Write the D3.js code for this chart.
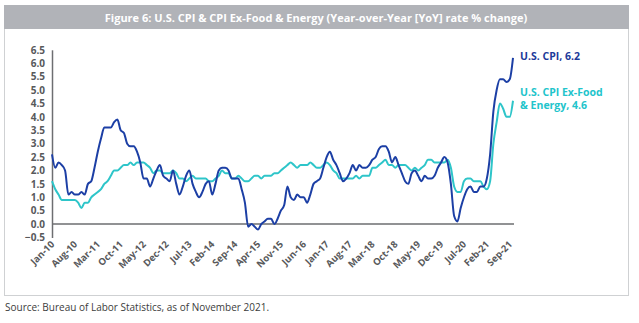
<!DOCTYPE html>
<html>
<head>
<meta charset="utf-8">
<script src="https://cdn.jsdelivr.net/npm/d3@7"></script>
<style>
	body { margin: 0; background: #fff; }
	svg { display: block; font-family: "Open Sans", "Noto Sans", sans-serif; }
</style>
</head>
<body>
<svg id="chart" width="639" height="323"></svg>
<script>
(function(d3) {
	'use strict';

	/** data: monthly YoY % change, Jan-10 .. Oct-21 */
	var cpi = [
		2.6, 2.1, 2.3, 2.2, 2.0, 1.1, 1.2, 1.1, 1.1, 1.2, 1.1, 1.5,
		1.6, 2.1, 2.7, 3.2, 3.6, 3.6, 3.6, 3.8, 3.9, 3.5, 3.4, 3.0,
		2.9, 2.9, 2.7, 2.3, 1.7, 1.7, 1.4, 1.7, 2.0, 2.2, 1.8, 1.7,
		1.6, 2.0, 1.5, 1.1, 1.4, 1.8, 2.0, 1.5, 1.2, 1.0, 1.2, 1.5,
		1.6, 1.1, 1.5, 2.0, 2.1, 2.1, 2.0, 1.7, 1.7, 1.7, 1.3, 0.8,
		-0.1, 0.0, -0.1, -0.2, 0.0, 0.1, 0.2, 0.2, 0.0, 0.2, 0.5, 0.7,
		1.4, 1.0, 0.9, 1.1, 1.0, 1.0, 0.8, 1.1, 1.5, 1.6, 1.7, 2.1,
		2.5, 2.7, 2.4, 2.2, 1.9, 1.6, 1.7, 1.9, 2.2, 2.0, 2.2, 2.1,
		2.1, 2.2, 2.4, 2.5, 2.8, 2.9, 2.9, 2.7, 2.3, 2.5, 2.2, 1.9,
		1.6, 1.5, 1.9, 2.0, 1.8, 1.6, 1.8, 1.7, 1.7, 1.8, 2.1, 2.3,
		2.5, 2.3, 1.5, 0.3, 0.1, 0.6, 1.0, 1.3, 1.4, 1.2, 1.2, 1.4,
		1.4, 1.7, 2.6, 4.2, 5.0, 5.4, 5.4, 5.3, 5.4, 6.2
	];
	var core = [
		1.6, 1.3, 1.1, 0.9, 0.9, 0.9, 0.9, 0.9, 0.8, 0.6, 0.8, 0.8,
		1.0, 1.1, 1.2, 1.3, 1.5, 1.6, 1.8, 2.0, 2.0, 2.1, 2.2, 2.2,
		2.3, 2.2, 2.3, 2.3, 2.3, 2.2, 2.1, 1.9, 2.0, 2.0, 1.9, 1.9,
		1.9, 2.0, 1.9, 1.7, 1.7, 1.6, 1.7, 1.8, 1.7, 1.7, 1.7, 1.7,
		1.6, 1.6, 1.7, 1.8, 2.0, 1.9, 1.9, 1.7, 1.7, 1.8, 1.7, 1.6,
		1.6, 1.7, 1.8, 1.8, 1.7, 1.8, 1.8, 1.8, 1.9, 1.9, 2.0, 2.1,
		2.2, 2.3, 2.2, 2.1, 2.2, 2.2, 2.2, 2.3, 2.2, 2.1, 2.1, 2.2,
		2.3, 2.2, 2.0, 1.9, 1.7, 1.7, 1.7, 1.7, 1.7, 1.8, 1.7, 1.8,
		1.8, 1.8, 2.1, 2.1, 2.2, 2.3, 2.4, 2.2, 2.2, 2.1, 2.2, 2.2,
		2.2, 2.1, 2.0, 2.1, 2.0, 2.1, 2.2, 2.4, 2.4, 2.3, 2.3, 2.3,
		2.3, 2.4, 2.1, 1.4, 1.2, 1.2, 1.6, 1.7, 1.7, 1.6, 1.6, 1.6,
		1.4, 1.3, 1.6, 3.0, 3.8, 4.5, 4.3, 4.0, 4.0, 4.6
	];
	var tickLabels = ['Jan-10', 'Aug-10', 'Mar-11', 'Oct-11', 'May-12', 'Dec-12', 'Jul-13',
		'Feb-14', 'Sep-14', 'Apr-15', 'Nov-15', 'Jun-16', 'Jan-17', 'Aug-17', 'Mar-18',
		'Oct-18', 'May-19', 'Dec-19', 'Jul-20', 'Feb-21', 'Sep-21'];
	var yTicks = [-0.5, 0, 0.5, 1, 1.5, 2, 2.5, 3, 3.5, 4, 4.5, 5, 5.5, 6, 6.5];

	var svg = d3.select('#chart');

	/** frame and title */
	svg.append('rect').attr('x', 4.5).attr('y', 5.5).attr('width', 624).attr('height', 290)
		.attr('fill', '#fff').attr('stroke', '#cfd1d3').attr('stroke-width', 1);
	svg.append('rect').attr('x', 4).attr('y', 5).attr('width', 625).attr('height', 24)
		.attr('fill', '#b1b3b8');
	svg.append('text').attr('x', 316).attr('y', 21.5).attr('text-anchor', 'middle')
		.attr('fill', '#fff').attr('font-weight', 'bold').attr('font-size', 11)
		.text('Figure 6: U.S. CPI & CPI Ex-Food & Energy (Year-over-Year [YoY] rate % change)');

	/** scales */
	var x = d3.scaleLinear().domain([0, cpi.length - 1]).range([52, 513]);
	var y = d3.scaleLinear().domain([-0.5, 6.5]).range([237.5, 49.8]);

	/** y axis */
	var yAxis = svg.append('g').attr('transform', 'translate(52,0)')
		.call(d3.axisLeft(y).tickValues(yTicks).tickSize(0).tickPadding(7)
			.tickFormat(d3.format('.1f')));
	yAxis.select('.domain').attr('stroke', '#6d6e71').attr('stroke-width', 1.5);
	yAxis.selectAll('text').attr('font-size', 10).attr('font-weight', 'bold')
		.attr('fill', '#58595b').attr('font-family', '"Open Sans", sans-serif');

	/** zero line */
	svg.append('line').attr('x1', 52).attr('x2', 514).attr('y1', y(0)).attr('y2', y(0))
		.attr('stroke', '#6d6e71').attr('stroke-width', 1.5);

	/** x labels */
	svg.append('g').selectAll('text').data(tickLabels).enter().append('text')
		.attr('transform', function(d, i) {
			return 'translate(' + (x(i * 7) + 3) + ',245) rotate(-45)';
		})
		.attr('text-anchor', 'end').attr('font-size', 9.5).attr('font-weight', 'bold')
		.attr('fill', '#58595b')
		.text(function(d) { return d; });

	/** lines */
	var line = d3.line()
		.x(function(d, i) { return x(i); })
		.y(function(d) { return y(d); })
		.curve(d3.curveMonotoneX);
	svg.append('path').datum(core).attr('d', line).attr('fill', 'none')
		.attr('stroke', '#2ec5c9').attr('stroke-width', 2);
	svg.append('path').datum(cpi).attr('d', line).attr('fill', 'none')
		.attr('stroke', '#1c3fa5').attr('stroke-width', 2);

	/** series labels */
	var labels = svg.append('g').attr('font-size', 10.5).attr('font-weight', 'bold');
	labels.append('text').attr('x', 520).attr('y', 60).attr('fill', '#1c3a9a')
		.text('U.S. CPI, ' + cpi[cpi.length - 1].toFixed(1));
	labels.append('text').attr('x', 520).attr('y', 96).attr('fill', '#22c4cb')
		.text('U.S. CPI Ex-Food');
	labels.append('text').attr('x', 520).attr('y', 109).attr('fill', '#22c4cb')
		.text('& Energy, ' + core[core.length - 1].toFixed(1));

	/** source */
	svg.append('text').attr('x', 5).attr('y', 311).attr('font-size', 10)
		.attr('fill', '#3c3c3c').attr('font-family', '"Liberation Sans Narrow", "Open Sans", sans-serif')
		.text('Source: Bureau of Labor Statistics, as of November 2021.');
})(d3);
</script>
</body>
</html>
